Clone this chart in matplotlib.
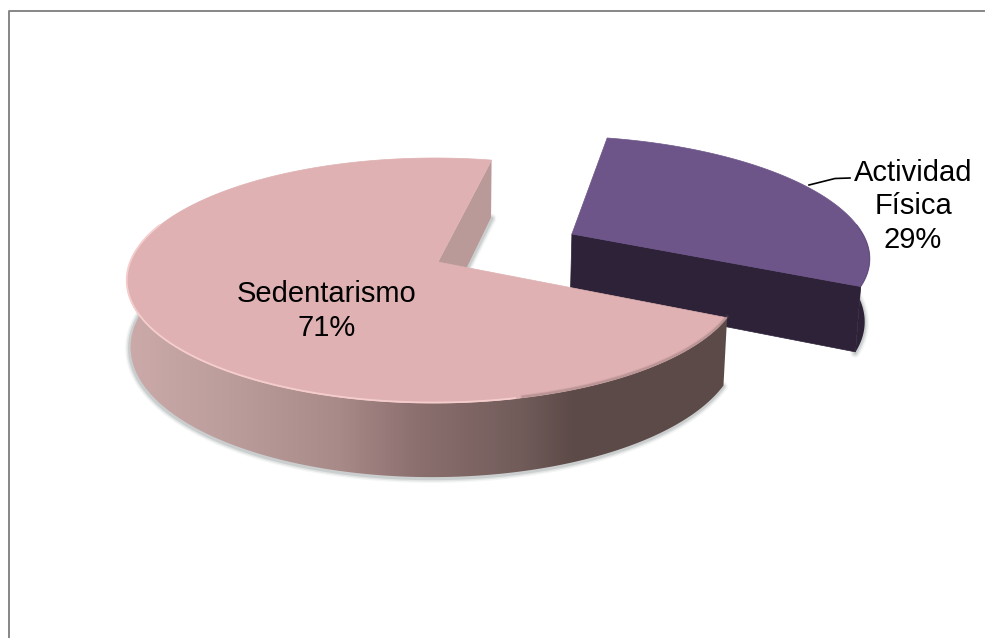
import numpy as np
import matplotlib
matplotlib.use('Agg')
import matplotlib.pyplot as plt
from matplotlib.colors import LinearSegmentedColormap
from matplotlib.patches import Polygon

labels = ['Actividad\nFísica', 'Sedentarismo']
values = [29, 71]
top_colors = ['#6d5589', '#dfb1b2']

# 3D look of the pie, fitted by eye
START = 11.7
APEX = (438, 262)
RX, RY, H = 304, 119.7, 65.5
K, M, Q = 0.151, 0.012, 0.012
EXPLODE = 0.52
EXPLODE_DIR = 62
R_PURPLE = 1.015


def project(u, v, z=0.0):
    w = 1 - K * v + M * u + Q * z
    return APEX[0] + RX * u / w, APEX[1] + (RY * v + H * z) / w


def slice_points(t0, t1, off, z=0.0, r=1.0, n=200):
    t = np.radians(np.linspace(t0, t1, n))
    return np.column_stack(project(off[0] + r * np.sin(t), off[1] - r * np.cos(t), z))


def shadow(ax, pts):
    for lw, a in [(7, 0.06), (5, 0.1), (3, 0.16)]:
        ax.plot(pts[:, 0] - 0.5, pts[:, 1] + 1, color='#505a5a', lw=lw, alpha=a, solid_capstyle='round', zorder=2)


fig = plt.figure(figsize=(9.88, 6.38), dpi=100)
ax = fig.add_axes([0, 0, 1, 1])
ax.set_xlim(0, 988)
ax.set_ylim(638, 0)
ax.axis('off')

# chart border, only top and left show
ax.plot([8.5, 8.5, 984], [638, 10.5, 10.5], color='#868686', lw=1.4, zorder=1)

# angles from the values
bounds = START + np.cumsum([0] + values) * 3.6
mid = np.radians(EXPLODE_DIR)
off_a = (EXPLODE * np.sin(mid), -EXPLODE * np.cos(mid))
off_s = (0.0, 0.0)

# Actividad Fisica
a0, a1 = bounds[0], bounds[1]
tip_a = np.array(project(off_a[0], off_a[1]))
tip_ab = np.array(project(off_a[0], off_a[1], 1))
arc_a = slice_points(a0, a1, off_a, r=R_PURPLE)
wall = slice_points(85, a1, off_a, r=R_PURPLE)
wall_b = slice_points(85, a1, off_a, 1, r=R_PURPLE)
shadow(ax, wall_b)
ax.add_patch(Polygon(np.vstack([wall, wall_b[::-1]]), fc='#2d2237', ec='none', zorder=3))
ax.add_patch(Polygon(np.vstack([tip_a, arc_a[-1], wall_b[-1], tip_ab]), fc='#2d2237', ec='#2d2237', lw=0.5, zorder=3))
ax.add_patch(Polygon(np.vstack([tip_a, arc_a]), fc=top_colors[0], ec=top_colors[0], lw=0.5, zorder=4))
ax.plot(arc_a[-60:, 0], arc_a[-60:, 1], color='#574370', lw=1, alpha=0.4, zorder=5)

# Sedentarismo
s0, s1 = bounds[1], bounds[2]
tip_s = np.array(project(*off_s))
tip_sb = np.array(project(off_s[0], off_s[1], 1))
arc_s = slice_points(s0, s1, off_s)
wall = slice_points(s0, 278, off_s)
wall_b = slice_points(s0, 278, off_s, 1)
shadow(ax, wall_b)
back_b = np.array(project(np.sin(np.radians(s1)), -np.cos(np.radians(s1)), 1))
shadow(ax, np.vstack([back_b + [1, 0], tip_sb]))

grad = LinearSegmentedColormap.from_list('side', [
    (0.0, '#ccaaaa'), (0.2, '#b89b99'), (0.355, '#a88a88'), (0.47, '#8e7171'),
    (0.655, '#715c5a'), (0.74, '#5d4b48'), (1.0, '#5c4a48')])
x0, x1 = wall[:, 0].min(), wall[:, 0].max()
im = ax.imshow(np.linspace(0, 1, 256)[None, :], cmap=grad, aspect='auto',
               extent=[x0 - 2, x1 + 2, 500, 250], zorder=3)
clip = Polygon(np.vstack([wall, wall_b[::-1]]), fc='none', ec='none', transform=ax.transData)
ax.add_patch(clip)
im.set_clip_path(clip)

ax.add_patch(Polygon(np.vstack([tip_s, arc_s[-1], back_b, tip_sb]), fc='#b99a98', ec='none', zorder=3))
ax.add_patch(Polygon(np.vstack([tip_s, arc_s]), fc=top_colors[1], ec=top_colors[1], lw=0.5, zorder=4))

# soft edges along the rim
n_dark = 40
for lw, a in [(3, 0.12), (1.6, 0.25)]:
    ax.plot(arc_s[:n_dark, 0], arc_s[:n_dark, 1] - 1, color='#7a6060', lw=lw, alpha=a, zorder=5)
ax.plot(arc_s[n_dark:135, 0], arc_s[n_dark:135, 1] - 0.5, color='#f6cdcd', lw=1.3, zorder=5)

ax.set_xlim(0, 988)
ax.set_ylim(638, 0)

# labels
txt = dict(family='Liberation Sans', color='black', fontsize=21, ha='center', va='center', linespacing=1.25, zorder=6)
ax.text(327, 311, f'{labels[1]}\n{values[1]}%', **txt)
ax.text(913, 206.5, f'{labels[0]}\n{values[0]}%', **txt)
ax.plot([809, 835, 850], [185, 178.5, 178], color='black', lw=1.2, zorder=6)

fig.savefig('out.png', dpi=100)
